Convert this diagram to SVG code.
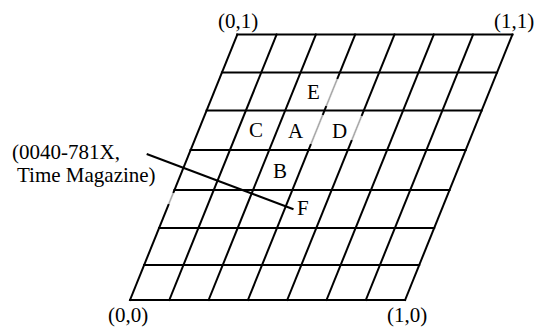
<svg xmlns="http://www.w3.org/2000/svg" width="537" height="328" viewBox="0 0 537 328">
<style>
.g{stroke:#000;stroke-width:2;fill:none;stroke-linecap:square}
.gr{stroke:#a8a8a8;stroke-width:1.6;fill:none}
.wh{stroke:#fff;stroke-width:3.2;fill:none}
.t{font-family:"Liberation Serif","Times New Roman",serif;font-size:21px;fill:#000}
.c{stroke:#000;stroke-width:2;fill:none}
</style>
<rect width="537" height="328" fill="#fff"/>
<g id="grid">
<g id="rows" class="g">
<line x1="237.3" y1="34.5" x2="512.4" y2="34.5"/>
<line x1="221.94" y1="72.5" x2="497.04" y2="72.5"/>
<line x1="206.58" y1="110.5" x2="481.68" y2="110.5"/>
<line x1="190.62" y1="150" x2="465.72" y2="150"/>
<line x1="174.46" y1="190" x2="449.56" y2="190"/>
<line x1="159.1" y1="228" x2="434.2" y2="228"/>
<line x1="144.14" y1="265" x2="419.24" y2="265"/>
<line x1="130" y1="300" x2="405.1" y2="300"/>
</g>
<g id="cols" class="g">
<line x1="130" y1="300" x2="237.3" y2="34.5"/>
<line x1="169.3" y1="300" x2="276.6" y2="34.5"/>
<line x1="208.6" y1="300" x2="315.9" y2="34.5"/>
<line x1="247.9" y1="300" x2="355.2" y2="34.5"/>
<line x1="287.2" y1="300" x2="394.5" y2="34.5"/>
<line x1="326.5" y1="300" x2="433.8" y2="34.5"/>
<line x1="365.8" y1="300" x2="473.1" y2="34.5"/>
<line x1="405.1" y1="300" x2="512.4" y2="34.5"/>
</g>
<g id="grey-edges">
<line class="wh" x1="337.22" y1="79" x2="326.3" y2="106"/>
<line class="gr" x1="337.22" y1="79" x2="326.3" y2="106"/>
<line class="wh" x1="322.67" y1="115" x2="310.95" y2="144"/>
<line class="gr" x1="322.67" y1="115" x2="310.95" y2="144"/>
<line class="wh" x1="361.56" y1="116" x2="351.86" y2="140"/>
<line class="gr" x1="361.56" y1="116" x2="351.86" y2="140"/>
<line class="wh" x1="173.24" y1="193" x2="168.8" y2="204"/>
<line class="gr" x1="173.24" y1="193" x2="168.8" y2="204"/>
</g>
</g>
<g id="corner-labels" class="t">
<text x="218" y="28">(0,1)</text>
<text x="494" y="28">(1,1)</text>
<text x="108" y="322">(0,0)</text>
<text x="387" y="322">(1,0)</text>
</g>
<g id="cells" class="t">
<text id="E" x="307" y="99">E</text>
<text id="C" x="249" y="137">C</text>
<text id="A" x="288" y="137.5">A</text>
<text id="D" x="332" y="137.5">D</text>
<text id="B" x="273" y="178">B</text>
<text id="F" x="297" y="215">F</text>
</g>
<g id="point" class="t">
<text x="12" y="159">(0040-781X,</text>
<text x="17" y="182">Time Magazine)</text>
</g>
<g id="connectors">
<line class="c" x1="146.7" y1="154" x2="293.5" y2="209.3"/>
</g>
</svg>
